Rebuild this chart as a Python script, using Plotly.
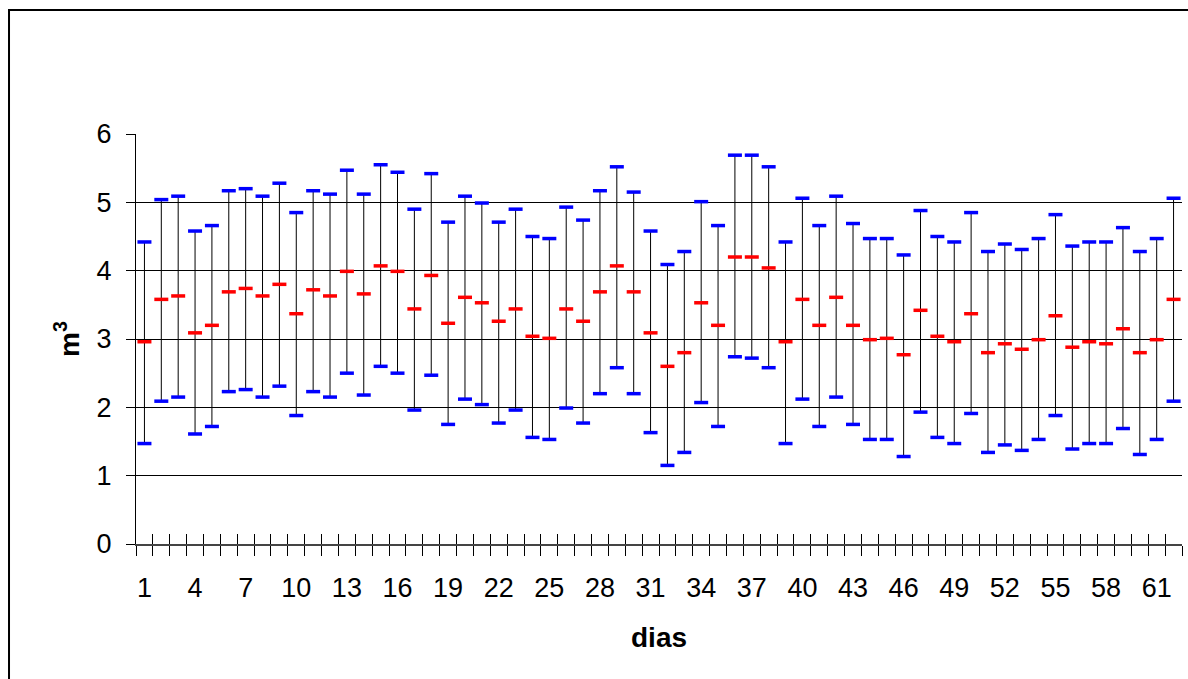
import plotly.graph_objects as go

# Daily volumes (m3): maximum, minimum and middle value for each day
dias = list(range(1, 63))

maximo = [4.42, 5.04, 5.09, 4.58, 4.66, 5.17, 5.20, 5.09, 5.28, 4.85,
          5.17, 5.12, 5.47, 5.12, 5.55, 5.44, 4.90, 5.42, 4.71, 5.09,
          4.99, 4.71, 4.90, 4.50, 4.47, 4.93, 4.74, 5.17, 5.52, 5.15,
          4.58, 4.09, 4.28, 5.01, 4.66, 5.69, 5.69, 5.52, 4.42, 5.06,
          4.66, 5.09, 4.69, 4.47, 4.47, 4.23, 4.88, 4.50, 4.42, 4.85,
          4.28, 4.39, 4.31, 4.47, 4.82, 4.36, 4.42, 4.42, 4.63, 4.28,
          4.47, 5.06]

minimo = [1.47, 2.09, 2.15, 1.61, 1.72, 2.23, 2.26, 2.15, 2.31, 1.88,
          2.23, 2.15, 2.50, 2.18, 2.60, 2.50, 1.96, 2.47, 1.75, 2.12,
          2.04, 1.77, 1.96, 1.56, 1.53, 1.99, 1.77, 2.20, 2.58, 2.20,
          1.63, 1.15, 1.34, 2.07, 1.72, 2.74, 2.72, 2.58, 1.47, 2.12,
          1.72, 2.15, 1.75, 1.53, 1.53, 1.28, 1.93, 1.56, 1.47, 1.91,
          1.34, 1.45, 1.37, 1.53, 1.88, 1.39, 1.47, 1.47, 1.69, 1.31,
          1.53, 2.09]

medio = [2.96, 3.58, 3.63, 3.09, 3.20, 3.69, 3.74, 3.63, 3.80, 3.37,
         3.72, 3.63, 3.99, 3.66, 4.07, 3.99, 3.44, 3.93, 3.23, 3.61,
         3.53, 3.26, 3.44, 3.04, 3.01, 3.44, 3.26, 3.69, 4.07, 3.69,
         3.09, 2.60, 2.80, 3.53, 3.20, 4.20, 4.20, 4.04, 2.96, 3.58,
         3.20, 3.61, 3.20, 2.99, 3.01, 2.77, 3.42, 3.04, 2.96, 3.37,
         2.80, 2.93, 2.85, 2.99, 3.34, 2.88, 2.96, 2.93, 3.15, 2.80,
         2.99, 3.58]

etiquetas_x = list(range(1, 62, 3))
limites_x = [d - 0.5 for d in dias] + [dias[-1] + 0.5]

# Vertical range segments from minimum to maximum
seg_x, seg_y = [], []
for d, lo, hi in zip(dias, minimo, maximo):
    seg_x += [d, d, None]
    seg_y += [lo, hi, None]

fig = go.Figure()
fig.add_trace(go.Scatter(x=seg_x, y=seg_y, mode="lines",
                         line=dict(color="black", width=1),
                         hoverinfo="skip", showlegend=False))

for serie, cor in ((maximo, "#0000FF"), (minimo, "#0000FF"), (medio, "#FF0000")):
    fig.add_trace(go.Scatter(x=dias, y=serie, mode="markers",
                             marker=dict(symbol="line-ew", size=10, color=cor,
                                         line=dict(width=3.5, color=cor)),
                             showlegend=False))

fonte = "Liberation Sans, Arial, sans-serif"

fig.update_layout(
    width=1188, height=679,
    margin=dict(l=136, r=6, t=134, b=135),
    paper_bgcolor="white", plot_bgcolor="white",
    font=dict(family=fonte, color="black", size=27),
    xaxis=dict(
        range=[0.5, 62.5], tickmode="array", tickvals=etiquetas_x,
        ticktext=[str(v) for v in etiquetas_x], ticks="", showgrid=False,
        zeroline=False, showline=True, linecolor="#444", linewidth=1.5,
        tickfont=dict(size=27), ticklabelstandoff=19,
        minor=dict(tickmode="array", tickvals=limites_x, ticks="outside",
                   ticklen=10, tickwidth=1, tickcolor="black", showgrid=False),
    ),
    xaxis2=dict(
        range=[0.5, 62.5], overlaying="x", matches="x", side="bottom",
        tickmode="array", tickvals=limites_x, showticklabels=False,
        ticks="inside", ticklen=10, tickwidth=1, tickcolor="black",
        showgrid=False, zeroline=False, showline=False,
    ),
    yaxis=dict(
        range=[0, 6], dtick=1, tick0=0, showgrid=True, gridcolor="black",
        gridwidth=1, zeroline=False, showline=True, linecolor="black",
        linewidth=1, ticks="outside", ticklen=9, tickcolor="black",
        tickfont=dict(size=27), ticklabelstandoff=9,
    ),
    annotations=[
        dict(text="<b>dias</b>", xref="paper", yref="paper", x=0.5, y=-0.229,
             xanchor="center", yanchor="middle", showarrow=False,
             font=dict(size=28)),
        dict(text="<b>m<sup>3</sup></b>", xref="paper", yref="paper",
             x=-0.066, y=0.5, xanchor="center", yanchor="middle",
             textangle=-90, showarrow=False, font=dict(size=28)),
    ],
    shapes=[
        dict(type="rect", xref="paper", yref="paper",
             x0=-0.1214, x1=1.02, y0=-0.36, y1=1.3024,
             line=dict(color="black", width=2), fillcolor="rgba(0,0,0,0)"),
    ],
)

# Empty trace so the overlaid axis carrying the inner tick marks is drawn
fig.add_trace(go.Scatter(x=[None], y=[None], xaxis="x2", showlegend=False,
                         hoverinfo="skip"))

fig.write_html("out.html")
